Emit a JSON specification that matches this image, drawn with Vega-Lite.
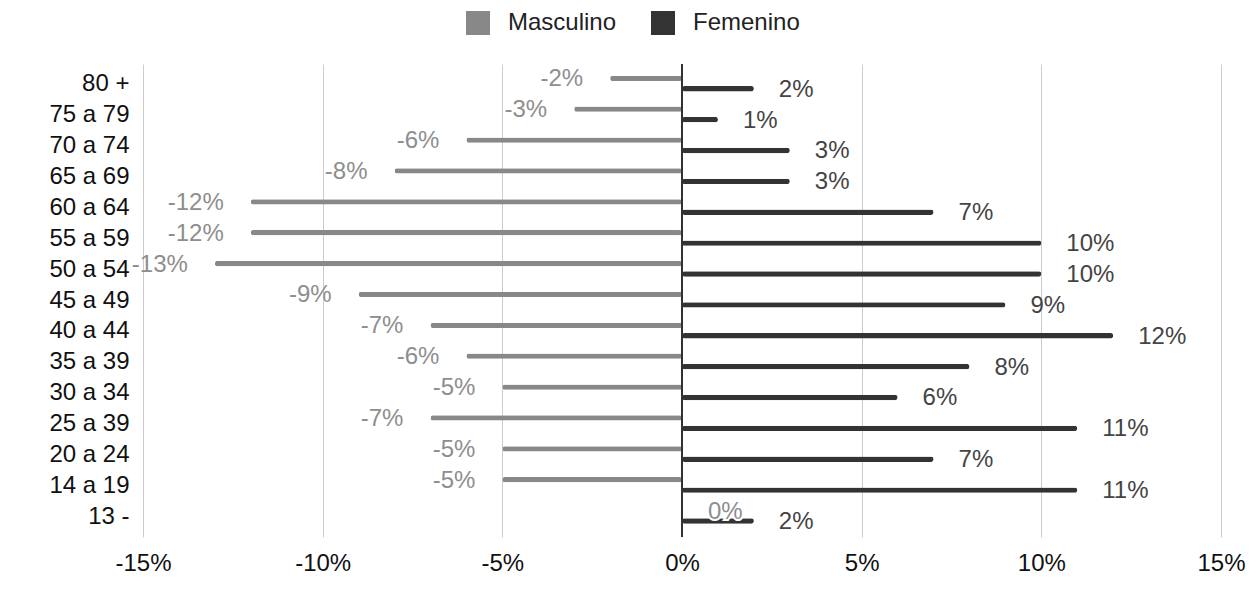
{
  "$schema": "https://vega.github.io/schema/vega-lite/v6.json",
  "width": 1078,
  "height": 473,
  "autosize": {"type": "none"},
  "padding": {"left": 143, "top": 64, "right": 39, "bottom": 79},
  "background": "white",
  "config": {
    "view": {"stroke": null},
    "font": "Liberation Sans",
    "locale": {"number": {"decimal": ".", "thousands": ",", "grouping": [3], "currency": ["$", ""], "minus": "-"}}
  },
  "data": {
    "values": [
      {"edad": "80 +", "sexo": "Masculino", "valor": -0.02},
      {"edad": "80 +", "sexo": "Femenino", "valor": 0.02},
      {"edad": "75 a 79", "sexo": "Masculino", "valor": -0.03},
      {"edad": "75 a 79", "sexo": "Femenino", "valor": 0.01},
      {"edad": "70 a 74", "sexo": "Masculino", "valor": -0.06},
      {"edad": "70 a 74", "sexo": "Femenino", "valor": 0.03},
      {"edad": "65 a 69", "sexo": "Masculino", "valor": -0.08},
      {"edad": "65 a 69", "sexo": "Femenino", "valor": 0.03},
      {"edad": "60 a 64", "sexo": "Masculino", "valor": -0.12},
      {"edad": "60 a 64", "sexo": "Femenino", "valor": 0.07},
      {"edad": "55 a 59", "sexo": "Masculino", "valor": -0.12},
      {"edad": "55 a 59", "sexo": "Femenino", "valor": 0.10},
      {"edad": "50 a 54", "sexo": "Masculino", "valor": -0.13},
      {"edad": "50 a 54", "sexo": "Femenino", "valor": 0.10},
      {"edad": "45 a 49", "sexo": "Masculino", "valor": -0.09},
      {"edad": "45 a 49", "sexo": "Femenino", "valor": 0.09},
      {"edad": "40 a 44", "sexo": "Masculino", "valor": -0.07},
      {"edad": "40 a 44", "sexo": "Femenino", "valor": 0.12},
      {"edad": "35 a 39", "sexo": "Masculino", "valor": -0.06},
      {"edad": "35 a 39", "sexo": "Femenino", "valor": 0.08},
      {"edad": "30 a 34", "sexo": "Masculino", "valor": -0.05},
      {"edad": "30 a 34", "sexo": "Femenino", "valor": 0.06},
      {"edad": "25 a 39", "sexo": "Masculino", "valor": -0.07},
      {"edad": "25 a 39", "sexo": "Femenino", "valor": 0.11},
      {"edad": "20 a 24", "sexo": "Masculino", "valor": -0.05},
      {"edad": "20 a 24", "sexo": "Femenino", "valor": 0.07},
      {"edad": "14 a 19", "sexo": "Masculino", "valor": -0.05},
      {"edad": "14 a 19", "sexo": "Femenino", "valor": 0.11},
      {"edad": "13 -", "sexo": "Masculino", "valor": 0},
      {"edad": "13 -", "sexo": "Femenino", "valor": 0.02}
    ]
  },
  "encoding": {
    "y": {
      "field": "edad",
      "type": "nominal",
      "sort": null,
      "scale": {"paddingInner": 0, "paddingOuter": 0.16},
      "axis": {
        "title": null,
        "domain": false,
        "ticks": false,
        "grid": false,
        "labelFontSize": 24,
        "labelColor": "#111111",
        "labelPadding": 14
      }
    },
    "yOffset": {
      "field": "sexo",
      "type": "nominal",
      "sort": ["Masculino", "Femenino"],
      "scale": {"paddingInner": 0.49, "paddingOuter": 0.729, "align": 0.445}
    },
    "x": {
      "field": "valor",
      "type": "quantitative",
      "scale": {"domain": [-0.15, 0.15], "nice": false},
      "axis": {
        "title": null,
        "values": [-0.15, -0.1, -0.05, 0, 0.05, 0.1, 0.15],
        "format": ".0%",
        "domain": false,
        "ticks": false,
        "grid": true,
        "gridColor": "#cccccc",
        "labelFlush": false,
        "labelFontSize": 24,
        "labelColor": "#111111",
        "labelPadding": 14
      }
    }
  },
  "layer": [
    {
      "mark": {"type": "bar", "cornerRadius": 2.6},
      "encoding": {
        "color": {
          "field": "sexo",
          "type": "nominal",
          "scale": {"domain": ["Masculino", "Femenino"], "range": ["#888888", "#333333"]},
          "legend": {
            "title": null,
            "orient": "none",
            "legendX": 323,
            "legendY": -53,
            "direction": "horizontal",
            "symbolType": "square",
            "symbolSize": 576,
            "symbolStrokeWidth": 0,
            "labelFontSize": 24,
            "labelColor": "#222222",
            "labelOffset": 18,
            "columnPadding": 34,
            "padding": 0
          }
        }
      }
    },
    {
      "transform": [{"filter": "datum.sexo == 'Femenino'"}],
      "mark": {"type": "text", "align": "left", "baseline": "middle", "dx": 25, "dy": 1, "fontSize": 24, "color": "#444444"},
      "encoding": {"text": {"field": "valor", "type": "quantitative", "format": ".0%"}}
    },
    {
      "transform": [{"filter": "datum.sexo == 'Masculino' && datum.valor < 0"}],
      "mark": {"type": "text", "align": "right", "baseline": "middle", "dx": -27, "dy": 1, "fontSize": 24, "color": "#8e8e8e"},
      "encoding": {"text": {"field": "valor", "type": "quantitative", "format": ".0%"}}
    },
    {
      "transform": [{"filter": "datum.sexo == 'Masculino' && datum.valor == 0"}],
      "mark": {"type": "text", "align": "left", "baseline": "middle", "dx": 26, "dy": 1, "fontSize": 24, "color": "#ffffff", "stroke": "#ffffff", "strokeWidth": 4},
      "encoding": {"text": {"field": "valor", "type": "quantitative", "format": ".0%"}}
    },
    {
      "transform": [{"filter": "datum.sexo == 'Masculino' && datum.valor == 0"}],
      "mark": {"type": "text", "align": "left", "baseline": "middle", "dx": 26, "dy": 1, "fontSize": 24, "color": "#8e8e8e"},
      "encoding": {"text": {"field": "valor", "type": "quantitative", "format": ".0%"}}
    },
    {
      "mark": {"type": "rule", "color": "#333333", "strokeWidth": 1},
      "encoding": {"x": {"datum": 0}, "y": null, "yOffset": null}
    }
  ]
}
